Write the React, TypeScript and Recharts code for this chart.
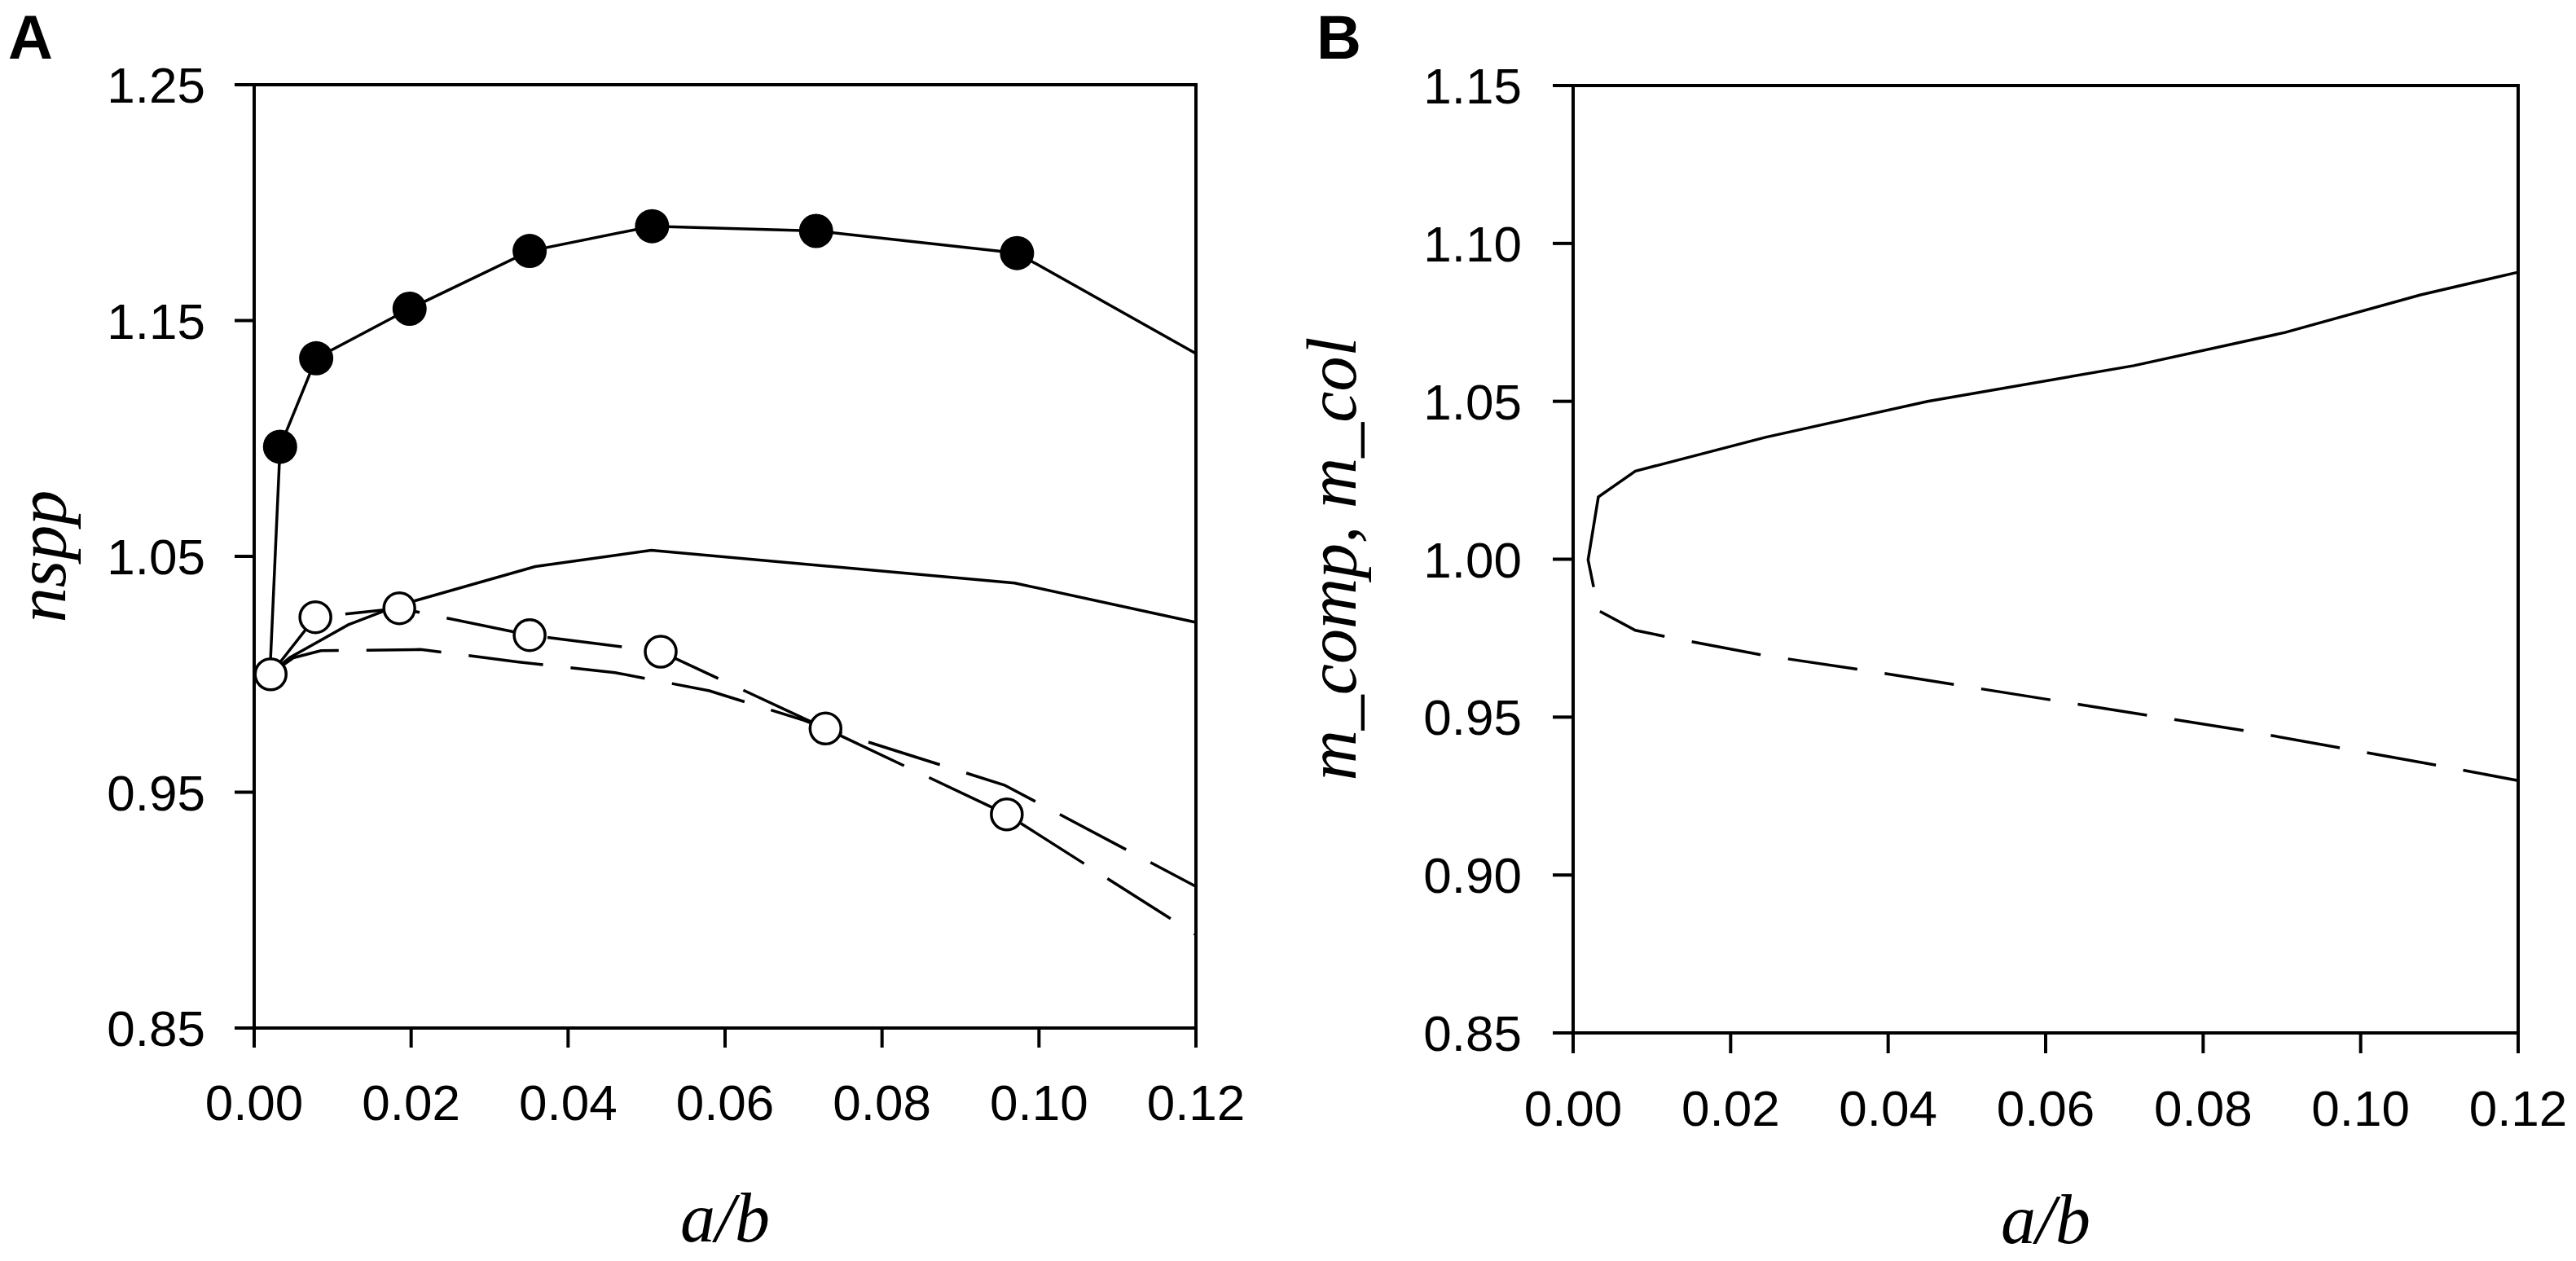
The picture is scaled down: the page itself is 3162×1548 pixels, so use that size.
import { LineChart, Line, XAxis, YAxis, ReferenceArea } from "recharts";

// shared x axis (a/b)
const X_TICKS = [0, 0.02, 0.04, 0.06, 0.08, 0.1, 0.12];

// panel A: nspp
const A_Y_TICKS = [0.85, 0.95, 1.05, 1.15, 1.25];

// filled circles (first and last entries are line ends without a marker)
const FILLED_X = [0.002, 0.0033, 0.0079, 0.0198, 0.0351, 0.0507, 0.0716, 0.0972, 0.12];
const FILLED_Y = [1.0, 1.0965, 1.134, 1.155, 1.1795, 1.19, 1.188, 1.1786, 1.136];

// open circles (last entry is the line end without a marker)
const OPEN_X = [0.0021, 0.0078, 0.0185, 0.0351, 0.0518, 0.0728, 0.0959, 0.12];
const OPEN_Y = [1.0, 1.0242, 1.028, 1.0166, 1.0096, 0.977, 0.9406, 0.8895];

// solid curve without markers
const SOLID_A_X = [0.002, 0.0045, 0.0076, 0.012, 0.0182, 0.0358, 0.0506, 0.0969, 0.12];
const SOLID_A_Y = [1.0, 1.007, 1.0128, 1.021, 1.029, 1.0457, 1.0526, 1.0387, 1.022];

// dashed curve without markers
const DASH_A_X = [0.002, 0.005, 0.0085, 0.0212, 0.0335, 0.046, 0.058, 0.07, 0.0728, 0.0956, 0.12];
const DASH_A_Y = [1.0, 1.007, 1.01, 1.0105, 1.0053, 1.0007, 0.993, 0.9805, 0.977, 0.953, 0.91];

// panel B: m_comp (solid), m_col (dashed)
const B_Y_TICKS = [0.85, 0.9, 0.95, 1.0, 1.05, 1.1, 1.15];

const COMP_X = [0.0026, 0.0019, 0.0032, 0.0079, 0.0244, 0.045, 0.0712, 0.0904, 0.1076, 0.12];
const COMP_Y = [0.9912, 0.9998, 1.0197, 1.0279, 1.0386, 1.05, 1.0613, 1.0718, 1.0837, 1.0909];

const COL_X = [0.0034, 0.0079, 0.0121, 0.0244, 0.0366, 0.0464, 0.0613, 0.0848, 0.1083, 0.12];
const COL_Y = [0.9835, 0.9775, 0.9753, 0.9695, 0.965, 0.9611, 0.9552, 0.9459, 0.9354, 0.9299];

const toPoints = (xs: number[], ys: number[]) => xs.map((x, i) => ({ x, y: ys[i] }));

const INK = "#000";
const SANS = "'Liberation Sans', Arial, sans-serif";
const SERIF = "'Liberation Serif', 'Times New Roman', serif";
const TICK_STYLE = { fontFamily: SANS, fontSize: 62, fill: INK };
const fmt = (v: number) => v.toFixed(2);

const filledDot = (count: number) => (props: any) => {
  const { cx, cy, index } = props;
  if (index === 0 || index === count - 1) return <g key={`fd-${index}`} />;
  return <circle key={`fd-${index}`} cx={cx} cy={cy} r={21} fill={INK} />;
};

const openDot = (count: number) => (props: any) => {
  const { cx, cy, index } = props;
  if (index === count - 1) return <g key={`od-${index}`} />;
  return (
    <circle key={`od-${index}`} cx={cx} cy={cy} r={19} fill="#fff" stroke={INK} strokeWidth={3.5} />
  );
};

function PanelA() {
  return (
    <LineChart width={1560} height={1548} margin={{ top: 104, right: 92, bottom: 0, left: 0 }}>
      <XAxis
        dataKey="x"
        type="number"
        domain={[0, 0.12]}
        ticks={X_TICKS}
        interval={0}
        tickFormatter={fmt}
        height={286}
        tickSize={24}
        tickMargin={45}
        tick={TICK_STYLE}
        axisLine={false}
        tickLine={{ stroke: INK, strokeWidth: 4 }}
      />
      <YAxis
        type="number"
        domain={[0.85, 1.25]}
        ticks={A_Y_TICKS}
        interval={0}
        tickFormatter={fmt}
        width={312}
        tickSize={24}
        tickMargin={36}
        tick={TICK_STYLE}
        axisLine={false}
        tickLine={{ stroke: INK, strokeWidth: 4 }}
      />
      <ReferenceArea
        x1={0}
        x2={0.12}
        y1={0.85}
        y2={1.25}
        fill="none"
        stroke={INK}
        strokeWidth={4}
        ifOverflow="visible"
      />
      <Line
        data={toPoints(OPEN_X, OPEN_Y)}
        dataKey="y"
        type="linear"
        stroke={INK}
        strokeWidth={3.5}
        strokeDasharray="92 34"
        dot={openDot(OPEN_X.length)}
        activeDot={false}
        isAnimationActive={false}
      />
      <Line
        data={toPoints(DASH_A_X, DASH_A_Y)}
        dataKey="y"
        type="linear"
        stroke={INK}
        strokeWidth={3.5}
        strokeDasharray="92 34"
        dot={false}
        activeDot={false}
        isAnimationActive={false}
      />
      <Line
        data={toPoints(SOLID_A_X, SOLID_A_Y)}
        dataKey="y"
        type="linear"
        stroke={INK}
        strokeWidth={3.5}
        dot={false}
        activeDot={false}
        isAnimationActive={false}
      />
      <Line
        data={toPoints(FILLED_X, FILLED_Y)}
        dataKey="y"
        type="linear"
        stroke={INK}
        strokeWidth={3.5}
        dot={filledDot(FILLED_X.length)}
        activeDot={false}
        isAnimationActive={false}
      />
    </LineChart>
  );
}

function PanelB() {
  return (
    <LineChart width={1602} height={1548} margin={{ top: 105, right: 71, bottom: 0, left: 0 }}>
      <XAxis
        dataKey="x"
        type="number"
        domain={[0, 0.12]}
        ticks={X_TICKS}
        interval={0}
        tickFormatter={fmt}
        height={280}
        tickSize={25}
        tickMargin={45}
        tick={TICK_STYLE}
        axisLine={false}
        tickLine={{ stroke: INK, strokeWidth: 4 }}
      />
      <YAxis
        type="number"
        domain={[0.85, 1.15]}
        ticks={B_Y_TICKS}
        interval={0}
        tickFormatter={fmt}
        width={371}
        tickSize={25}
        tickMargin={38}
        tick={TICK_STYLE}
        axisLine={false}
        tickLine={{ stroke: INK, strokeWidth: 4 }}
      />
      <ReferenceArea
        x1={0}
        x2={0.12}
        y1={0.85}
        y2={1.15}
        fill="none"
        stroke={INK}
        strokeWidth={4}
        ifOverflow="visible"
      />
      <Line
        data={toPoints(COMP_X, COMP_Y)}
        dataKey="y"
        type="linear"
        stroke={INK}
        strokeWidth={3.5}
        dot={false}
        activeDot={false}
        isAnimationActive={false}
      />
      <Line
        data={toPoints(COL_X, COL_Y)}
        dataKey="y"
        type="linear"
        stroke={INK}
        strokeWidth={3.5}
        strokeDasharray="86 34"
        dot={false}
        activeDot={false}
        isAnimationActive={false}
      />
    </LineChart>
  );
}

export default function App() {
  const title = { fontFamily: SERIF, fontStyle: "italic", fontSize: 86, fill: INK };
  const letter = { fontFamily: SANS, fontWeight: 700, fontSize: 76, fill: INK };
  return (
    <div style={{ position: "absolute", left: 0, top: 0, width: 3162, height: 1548, background: "#fff" }}>
      <div style={{ position: "absolute", left: 0, top: 0 }}>
        <PanelA />
      </div>
      <div style={{ position: "absolute", left: 1560, top: 0 }}>
        <PanelB />
      </div>
      <svg
        width={3162}
        height={1548}
        style={{ position: "absolute", left: 0, top: 0, pointerEvents: "none" }}
      >
        <text x={10} y={72} {...letter}>A</text>
        <text x={1616} y={72} {...letter}>B</text>
        <text x={80} y={683} transform="rotate(-90 80 683)" textAnchor="middle" {...title}>
          nspp
        </text>
        <text x={1664} y={686} transform="rotate(-90 1664 686)" textAnchor="middle" {...title}>
          m_comp, m_col
        </text>
        <text x={890} y={1524} textAnchor="middle" {...title}>a/b</text>
        <text x={2511} y={1526} textAnchor="middle" {...title}>a/b</text>
      </svg>
    </div>
  );
}
